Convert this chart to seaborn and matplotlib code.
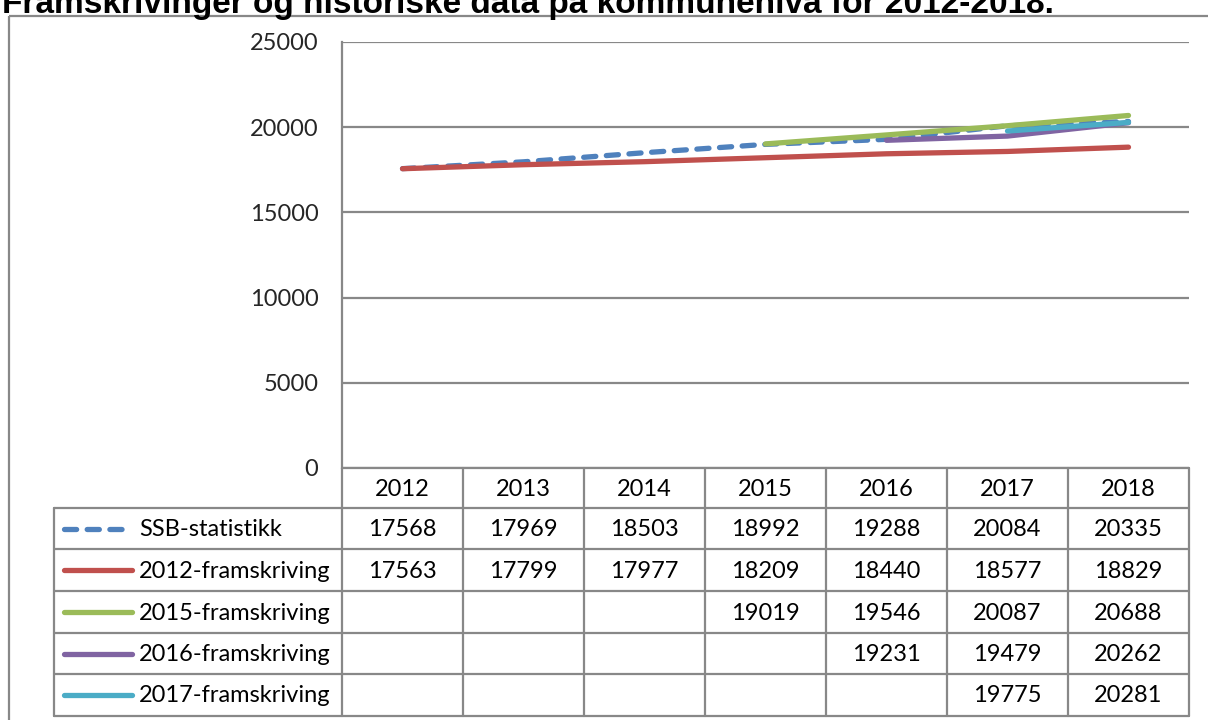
import numpy as np
import pandas as pd
import matplotlib
matplotlib.use("Agg")
import matplotlib.pyplot as plt
import matplotlib.patches as mpatches
import seaborn as sns

# data
years = [2012, 2013, 2014, 2015, 2016, 2017, 2018]
ssb_statistikk = [17568, 17969, 18503, 18992, 19288, 20084, 20335]
fram_2012 = [17563, 17799, 17977, 18209, 18440, 18577, 18829]
fram_2015 = [None, None, None, 19019, 19546, 20087, 20688]
fram_2016 = [None, None, None, None, 19231, 19479, 20262]
fram_2017 = [None, None, None, None, None, 19775, 20281]
series_names = ["SSB-statistikk", "2012-framskriving", "2015-framskriving",
                "2016-framskriving", "2017-framskriving"]
y_ticks = [0, 5000, 10000, 15000, 20000, 25000]
title = "Framskrivinger og historiske data på kommunenivå for 2012-2018."

sns.set_theme(style="white")
plt.rcParams["font.family"] = ["Lato", "DejaVu Sans"]

W, H = 1208, 720
fig = plt.figure(figsize=(W / 100, H / 100), dpi=100)

grid_col = "#888888"
LW = 3.8
FS = 17
styles = [
    dict(color="#4F81BD", dashes=(2.3, 2.0), dash_capstyle="round"),
    dict(color="#C0504D", solid_capstyle="round"),
    dict(color="#9BBB59", solid_capstyle="round"),
    dict(color="#8064A2", solid_capstyle="round"),
    dict(color="#4BACC6", solid_capstyle="round"),
]

# plot area in pixel coords
left, right, top, bottom = 342, 1189, 42, 468
ax = fig.add_axes([left / W, 1 - bottom / H, (right - left) / W, (bottom - top) / H])

all_series = [ssb_statistikk, fram_2012, fram_2015, fram_2016, fram_2017]
for name, vals, st in zip(series_names, all_series, styles):
    df = pd.DataFrame({"pos": np.arange(len(years)), "value": vals}).dropna()
    line_kw = {k: v for k, v in st.items() if k != "dashes"}
    sns.lineplot(data=df, x="pos", y="value", ax=ax, lw=LW, legend=False, **line_kw)
    if "dashes" in st:
        ax.lines[-1].set_dashes(st["dashes"])
        ax.lines[-1].set_dash_capstyle("round")

ax.set_xlim(-0.5, len(years) - 0.5)
ax.set_ylim(0, 25000)
ax.set_yticks(y_ticks)
ax.set_yticklabels([str(t) for t in y_ticks], fontsize=FS)
ax.set_xticks([])
ax.set_xlabel("")
ax.set_ylabel("")
ax.tick_params(axis="y", length=0, pad=17)
for s in ["top", "right", "bottom"]:
    ax.spines[s].set_visible(False)
ax.spines["left"].set_color(grid_col)
ax.spines["left"].set_linewidth(1.6)
for t in y_ticks:
    ax.axhline(t, color=grid_col, lw=1.6, zorder=0)

# overlay for data table, legend keys and frame (pixel coords)
ov = fig.add_axes([0, 0, 1, 1])
ov.set_xlim(0, W)
ov.set_ylim(H, 0)
ov.axis("off")
ov.patch.set_alpha(0)

ov.add_patch(mpatches.Rectangle((9, 16), W, H, fill=False, edgecolor=grid_col, lw=1.6))

col_w = (right - left) / len(years)
row_edges = [508, 549, 591, 633, 674, 716]
leg_left = 54
tcol = grid_col
# horizontal rules
ov.plot([left, right], [bottom, bottom], color=tcol, lw=1.6)
for y in row_edges:
    ov.plot([leg_left, right], [y, y], color=tcol, lw=1.6)
# vertical rules
ov.plot([leg_left, leg_left], [row_edges[0], row_edges[-1]], color=tcol, lw=1.6)
for k in range(len(years) + 1):
    x = left + k * col_w
    ov.plot([x, x], [bottom, row_edges[-1]], color=tcol, lw=1.6)

# header
for k, yr in enumerate(years):
    ov.text(left + (k + 0.5) * col_w, (bottom + row_edges[0]) / 2 + 1, str(yr),
            ha="center", va="center", fontsize=FS, color="black")

# rows
for r, (name, vals, st) in enumerate(zip(series_names, all_series, styles)):
    ymid = (row_edges[r] + row_edges[r + 1]) / 2
    key_kw = {k: v for k, v in st.items() if k != "dashes"}
    key = ov.plot([64, 132], [ymid, ymid], lw=LW, **key_kw)[0]
    if "dashes" in st:
        key.set_dashes(st["dashes"])
        key.set_dash_capstyle("round")
    ov.text(139, ymid + 1, name, ha="left", va="center", fontsize=FS, color="black")
    for k, v in enumerate(vals):
        if v is not None:
            ov.text(left + (k + 0.5) * col_w, ymid + 1, str(v),
                    ha="center", va="center", fontsize=FS, color="black")

fig.text(2 / W, 1 - 13 / H, title, ha="left", va="baseline", fontsize=24,
         fontweight="bold", family=["Liberation Sans", "DejaVu Sans"], color="black")

fig.savefig("out.png", dpi=100)
